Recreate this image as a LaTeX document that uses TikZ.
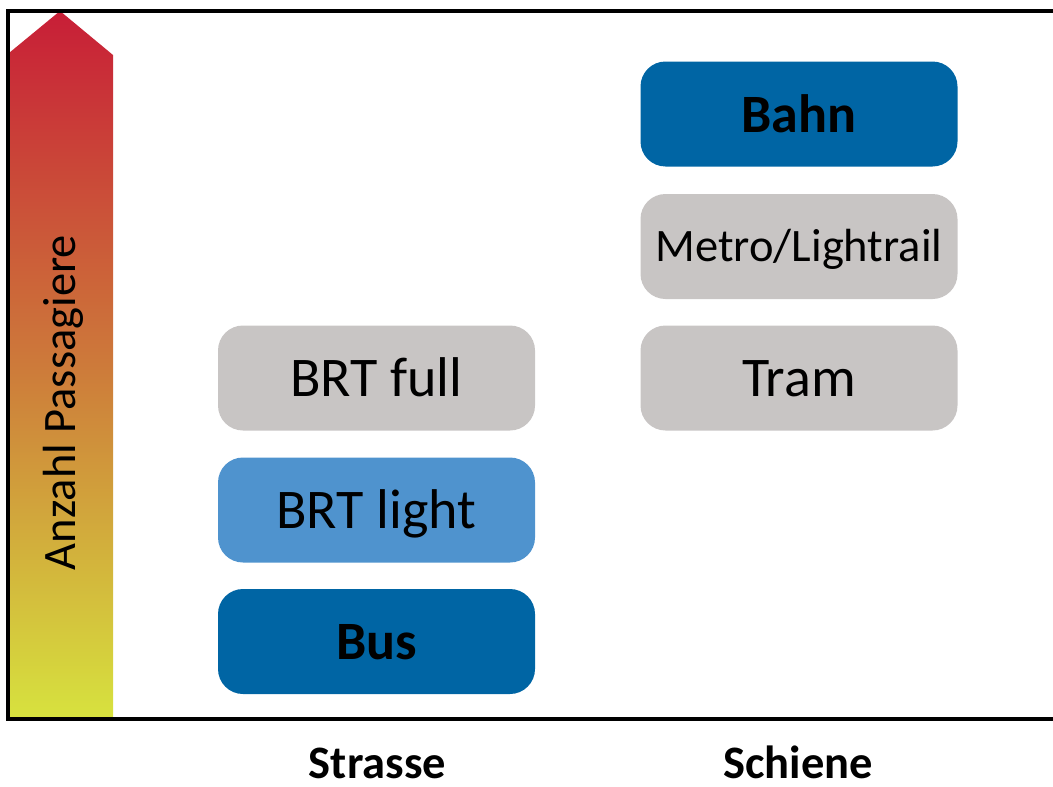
\documentclass[tikz,border=0pt]{standalone}
\usepackage{fontspec}
\setmainfont{Carlito}
\definecolor{darkblue}{RGB}{0,101,164}
\definecolor{lightblue}{RGB}{79,147,206}
\definecolor{boxgray}{RGB}{200,197,196}
\definecolor{arrtop}{RGB}{200,30,55}
\definecolor{arrmid}{RGB}{205,122,58}
\definecolor{arrbot}{RGB}{215,226,62}
\begin{document}
\begin{tikzpicture}[x=1pt,y=-1pt,
  modebox/.style={rounded corners=25pt, minimum width=317pt, minimum height=105pt, inner sep=0pt, text height=36pt, text depth=0pt},
  bigtext/.style={font=\fontsize{56}{60}\selectfont},
  boldtext/.style={font=\fontsize{54}{60}\selectfont\bfseries},
  midtext/.style={font=\fontsize{46.5}{50}\selectfont, text height=30pt},
  axistext/.style={font=\fontsize{46.5}{50}\selectfont\bfseries, text height=30pt, text depth=0pt, inner sep=0pt},
  sidetext/.style={font=\fontsize{46.5}{50}\selectfont, text height=30pt, text depth=0pt, inner sep=0pt}]
\useasboundingbox (0,0) rectangle (1053,787);
% gradient arrow
\shade[top color=arrtop, bottom color=arrbot, middle color=arrmid]
  (9,718) -- (9,53) -- (60,11) -- (113,55) -- (113,718) -- cycle;
% frame
\draw[line width=4pt] (1053,10.5) -- (8,10.5) -- (8,719) -- (1053,719);
% boxes
\node[modebox, fill=darkblue, boldtext] (bus) at (376.5,641.5) {Bus};
\node[modebox, fill=lightblue, bigtext] (brtlight) at (376.5,510) {BRT light};
\node[modebox, fill=boxgray, bigtext] (brtfull) at (376.5,378) {BRT full};
\node[modebox, fill=boxgray, bigtext] (tram) at (799,378) {Tram};
\node[modebox, fill=boxgray, midtext] (metro) at (799,246.5) {Metro/Lightrail};
\node[modebox, fill=darkblue, boldtext] (bahn) at (799,114) {Bahn};
% labels
\node[axistext] (strasse) at (377.5,763) {Strasse};
\node[axistext] (schiene) at (798,763) {Schiene};
\node[sidetext, rotate=90] (anzahl) at (60,402.5) {Anzahl Passagiere};
\end{tikzpicture}
\end{document}
